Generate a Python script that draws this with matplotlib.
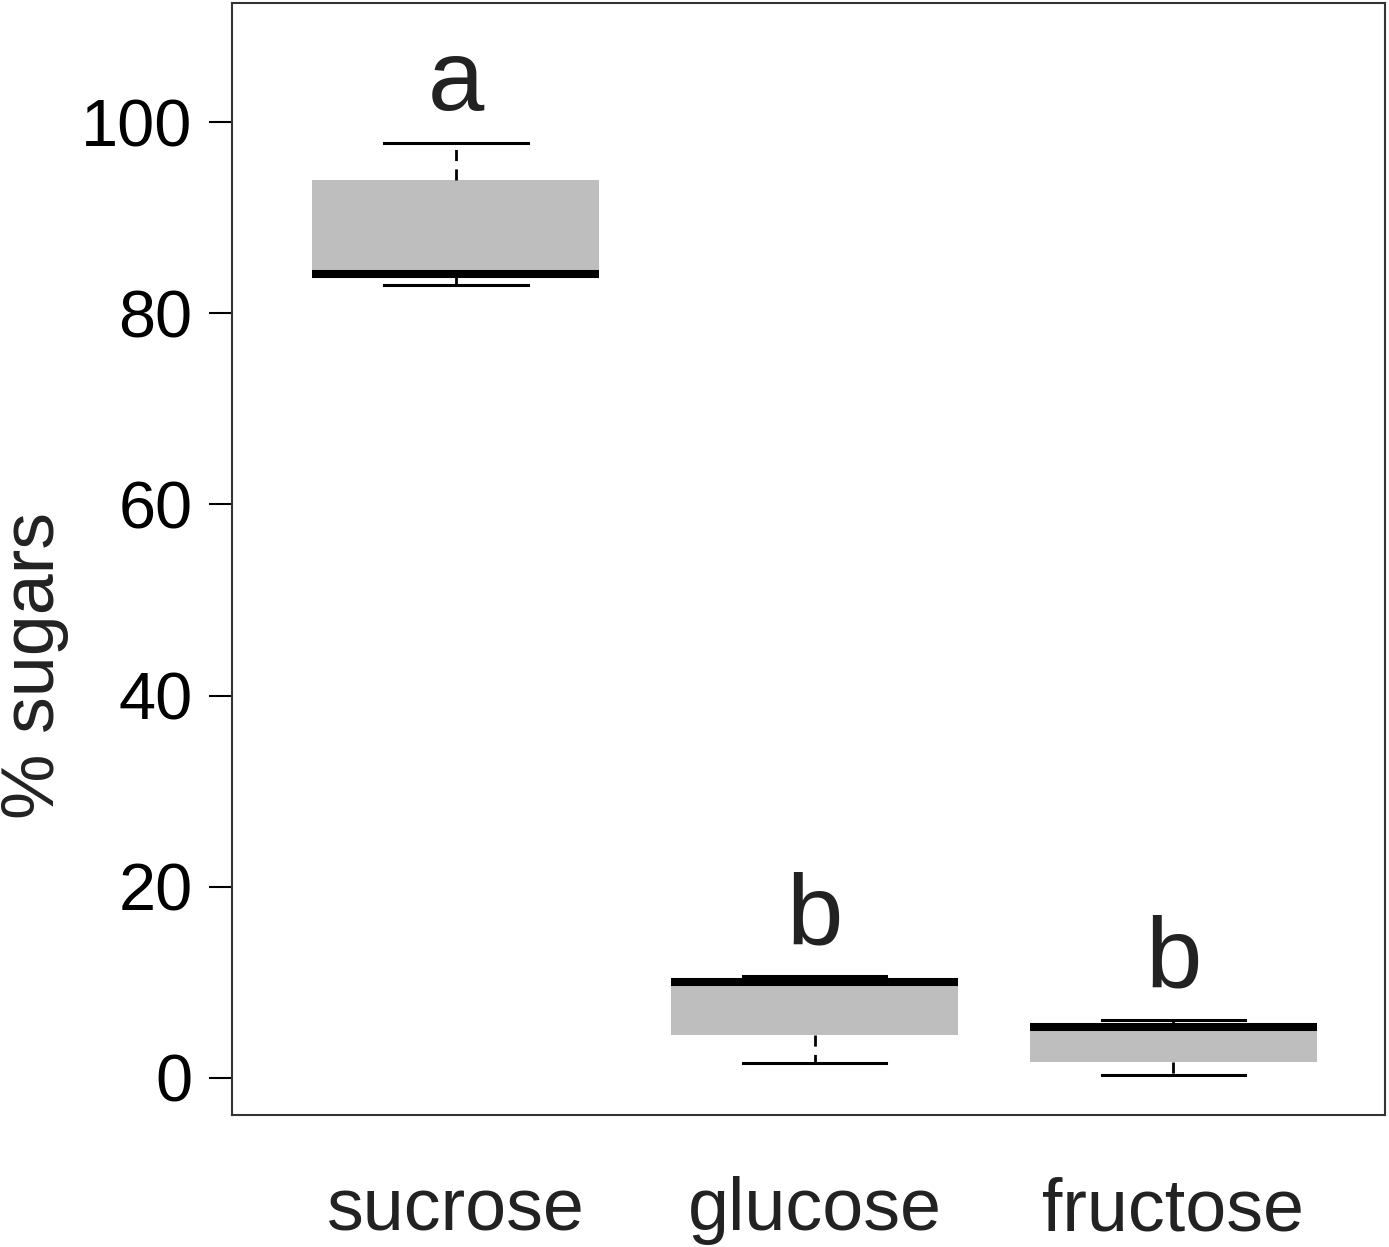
import matplotlib
matplotlib.use("Agg")
import matplotlib.pyplot as plt

plt.rcParams["font.family"] = ["Liberation Sans", "DejaVu Sans"]

categories = ["sucrose", "glucose", "fructose"]
whislo = [83.0, 1.6, 0.3]
q1 = [84.0, 4.5, 1.7]
med = [84.1, 10.0, 5.3]
q3 = [93.9, 10.2, 5.5]
whishi = [97.8, 10.7, 6.1]
letters = ["a", "b", "b"]
letter_y = [101.3, 14.0, 9.5]
yticks = [0, 20, 40, 60, 80, 100]

stats = []
for i, name in enumerate(categories):
    stats.append(dict(label=name, whislo=whislo[i], q1=q1[i], med=med[i],
                      q3=q3[i], whishi=whishi[i], fliers=[]))

fig = plt.figure(figsize=(13.89, 12.47), dpi=100)
ax = fig.add_axes([0.167, 0.1059, 0.83, 0.8917])

pos = [1, 2, 3]
ax.bxp(stats, positions=pos, widths=0.8, patch_artist=True, showfliers=False,
       boxprops=dict(facecolor="#bebebe", edgecolor="none", linewidth=0),
       medianprops=dict(color="black", linewidth=5.8, solid_capstyle="butt"),
       whiskerprops=dict(color="black", linewidth=2.0, linestyle=(0, (4, 3))),
       capprops=dict(color="black", linewidth=2.2),
       capwidths=0.4)

# group letters above each box
for x, t, y in zip(pos, letters, letter_y):
    ax.text(x, y, t, ha="center", va="baseline", fontsize=73, color="#222222")

ax.set_xlim(0.3755, 3.59)
ax.set_ylim(-3.87, 112.45)
ax.set_yticks(yticks)
ax.set_yticklabels([str(v) for v in yticks])
ax.tick_params(axis="y", length=16.5, width=1.5, pad=12, labelsize=48)
ax.tick_params(axis="x", length=0, pad=44, labelsize=53, labelcolor="#222222")

for s in ax.spines.values():
    s.set_linewidth(1.5)
    s.set_color("#333333")

ax.set_ylabel("% sugars", fontsize=53, color="#222222")
ax.yaxis.set_label_coords(-0.1415, 0.404)

fig.savefig("out.png", dpi=100)
